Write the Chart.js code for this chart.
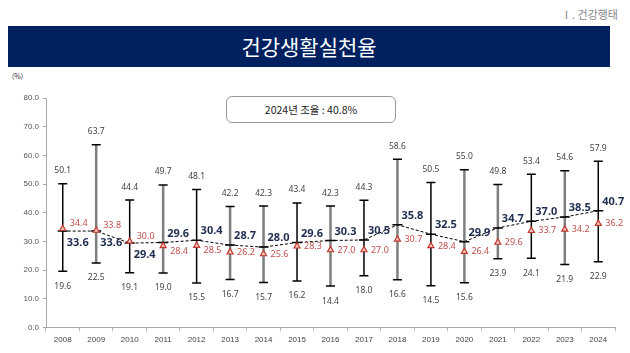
<!DOCTYPE html>
<html>
<head>
<meta charset="utf-8">
<script src="https://cdn.jsdelivr.net/npm/chart.js@4"></script>
<style>
  body { margin: 0; width: 630px; height: 353px; background: #fff; position: relative; overflow: hidden; font-family: "Noto Sans CJK KR", "Noto Sans", sans-serif; }
  .section { position: absolute; right: 12px; top: 6px; font-size: 11px; color: #888; }
  .banner { position: absolute; left: 8px; top: 26px; width: 602px; height: 41px; background: #002060; color: #fff; font-size: 21px; text-align: center; line-height: 41px; }
  .unit { position: absolute; left: 12px; top: 71px; font-size: 7px; color: #333; }
  .note { position: absolute; left: 226px; top: 96px; width: 168px; height: 25px; border: 1px solid #999; border-radius: 6px; font-size: 10.5px; text-align: center; line-height: 25px; color: #222; background: #fff; z-index: 2; }
  #wrap { position: absolute; left: 0; top: 70px; width: 630px; height: 283px; }
</style>
</head>
<body>
<div class="section">Ⅰ. 건강행태</div>
<div class="banner">건강생활실천율</div>
<div class="unit">(%)</div>
<div class="note">2024년 조율 : 40.8%</div>
<div id="wrap"><canvas id="chart"></canvas></div>
<script>
var years = ["2008","2009","2010","2011","2012","2013","2014","2015","2016","2017","2018","2019","2020","2021","2022","2023","2024"];
var standardized = [33.6, 33.6, 29.4, 29.6, 30.4, 28.7, 28.0, 29.6, 30.3, 30.5, 35.8, 32.5, 29.9, 34.7, 37.0, 38.5, 40.7];
var crude = [34.4, 33.8, 30.0, 28.4, 28.5, 26.2, 25.6, 28.3, 27.0, 27.0, 30.7, 28.4, 26.4, 29.6, 33.7, 34.2, 36.2];
var upper = [50.1, 63.7, 44.4, 49.7, 48.1, 42.2, 42.3, 43.4, 42.3, 44.3, 58.6, 50.5, 55.0, 49.8, 53.4, 54.6, 57.9];
var lower = [19.6, 22.5, 19.1, 19.0, 15.5, 16.7, 15.7, 16.2, 14.4, 18.0, 16.6, 14.5, 15.6, 23.9, 24.1, 21.9, 22.9];
var barShade = ["black","gray","black","gray","black","gray","gray","black","gray","black","gray","black","gray","gray","black","gray","black"];

var rangePlugin = {
    id: 'ranges',
    beforeDatasetsDraw: function(chart) {
        var ctx = chart.ctx, x = chart.scales.x, y = chart.scales.y;
        ctx.save();
        for (var i = 0; i < years.length; i++) {
            var px = x.getPixelForValue(i);
            var top = y.getPixelForValue(upper[i]);
            var bot = y.getPixelForValue(lower[i]);
            var gray = barShade[i] === "gray";
            ctx.strokeStyle = gray ? "#7f7f7f" : "#000";
            ctx.lineWidth = gray ? 2.5 : 1.5;
            ctx.beginPath();
            ctx.moveTo(px, top); ctx.lineTo(px, bot);
            ctx.stroke();
            ctx.strokeStyle = "#000";
            ctx.lineWidth = 1.5;
            ctx.beginPath();
            ctx.moveTo(px - 4.5, top); ctx.lineTo(px + 4.5, top);
            ctx.moveTo(px - 4.5, bot); ctx.lineTo(px + 4.5, bot);
            ctx.stroke();
        }
        ctx.restore();
    },
    afterDatasetsDraw: function(chart) {
        var ctx = chart.ctx, x = chart.scales.x, y = chart.scales.y;
        ctx.save();
        ctx.textBaseline = "middle";
        for (var i = 0; i < years.length; i++) {
            var px = x.getPixelForValue(i);
            ctx.font = "8.5px 'Noto Sans', sans-serif";
            ctx.fillStyle = "#444";
            ctx.textAlign = "center";
            ctx.fillText(upper[i].toFixed(1), px, y.getPixelForValue(upper[i]) - 13);
            ctx.fillText(lower[i].toFixed(1), px, y.getPixelForValue(lower[i]) + 15);

            ctx.textAlign = "left";
            ctx.font = "bold 11px 'Noto Sans', sans-serif";
            ctx.fillStyle = "#1f2d50";
            var sy = y.getPixelForValue(standardized[i]);
            ctx.fillText(standardized[i].toFixed(1), px + 4, i < 3 ? sy + 12 : sy - 9);

            // crude-rate label: right of the triangle, nudged where it would collide
            var shift = i < 3 ? -5 : (i < 5 ? 5 : 0);
            ctx.font = "9px 'Noto Sans', sans-serif";
            ctx.fillStyle = "#c0504d";
            ctx.fillText(crude[i].toFixed(1), px + 7, y.getPixelForValue(crude[i]) + shift);
        }
        ctx.restore();
    }
};

new Chart(document.getElementById("chart"), {
    type: 'line',
    data: {
        labels: years,
        datasets: [{
            label: "표준화율",
            data: standardized,
            borderColor: "#000",
            borderWidth: 1,
            borderDash: [3, 2],
            pointStyle: 'line',
            pointRadius: 5,
            pointBorderWidth: 1.5,
            pointBorderColor: "#000",
            fill: false,
            order: 2
        },
        {
            label: "조율",
            data: crude,
            showLine: false,
            pointStyle: 'triangle',
            pointRadius: 3.5,
            pointBorderWidth: 1.2,
            pointBorderColor: "#c0392b",
            pointBackgroundColor: "#f4c7c3",
            order: 1
        }]
    },
    options: {
        responsive: true,
        maintainAspectRatio: false,
        animation: false,
        layout: { padding: { top: 28, right: 15, bottom: 4, left: 0 } },
        plugins: { legend: { display: false }, tooltip: { enabled: false } },
        scales: {
            x: {
                offset: true,
                grid: { display: true, drawOnChartArea: false, offset: true, tickLength: 4, color: "#bbb" },
                border: { color: "#aaa" },
                ticks: { color: "#444", font: { size: 8 }, padding: 4 }
            },
            y: {
                min: 0, max: 80,
                afterFit: function(s) { s.width = 46; },
                grid: { display: true, drawOnChartArea: false, tickLength: 3, color: "#aaa" },
                border: { color: "#aaa" },
                ticks: { stepSize: 10, color: "#555", font: { size: 8 }, padding: 4,
                    callback: function(v) { return v.toFixed(1); } }
            }
        }
    },
    plugins: [rangePlugin]
});
</script>
</body>
</html>
